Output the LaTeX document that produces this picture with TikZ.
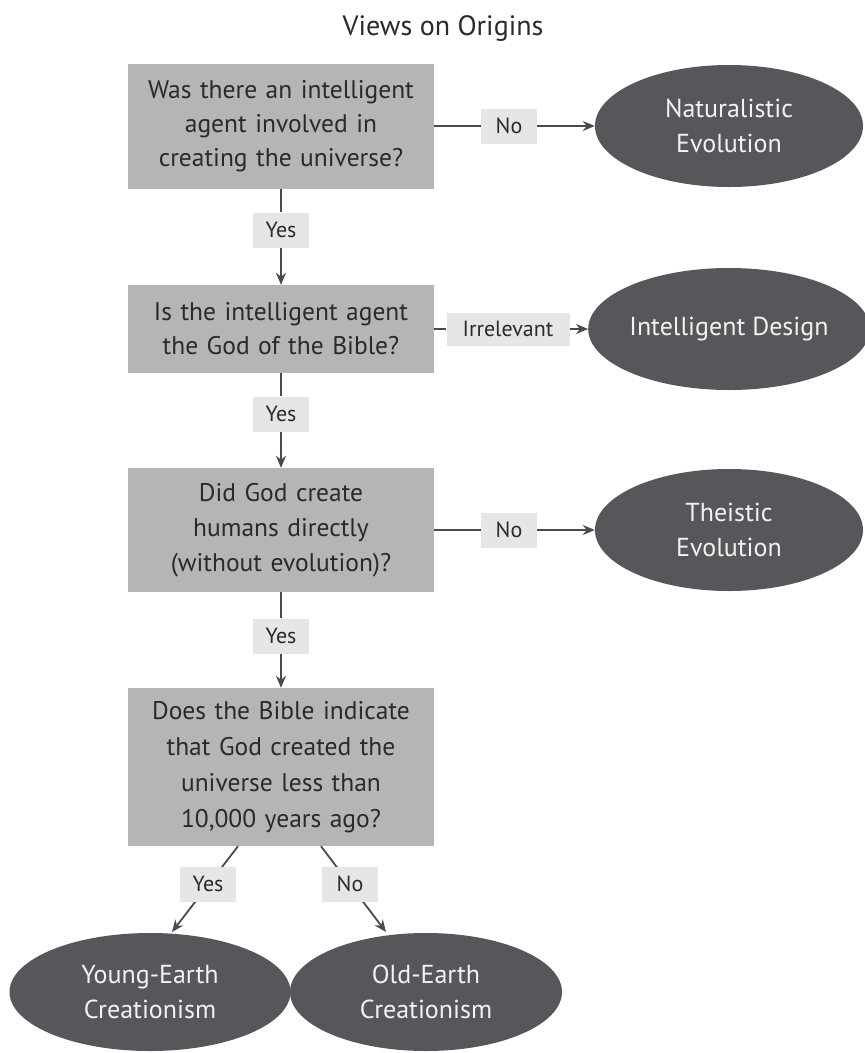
\documentclass[tikz,border=0pt]{standalone}
\usepackage{fontspec}
\setmainfont{PT Sans}
\usetikzlibrary{shapes.geometric,arrows.meta,calc}
\definecolor{boxgray}{HTML}{B4B5B7}
\definecolor{ovalgray}{HTML}{56575A}
\definecolor{labgray}{HTML}{E6E6E6}
\definecolor{txtdark}{HTML}{2A2A2A}
\definecolor{linegray}{HTML}{4A4A4A}
\definecolor{ovaltext}{HTML}{F2F2F2}
\begin{document}
\begin{tikzpicture}[x=1pt,y=-1pt,
  qbox/.style={rectangle, fill=boxgray, minimum width=306pt, text width=300pt, align=center, font=\fontsize{25.5}{34}\selectfont, text=txtdark, inner sep=0pt},
  oval/.style={ellipse, fill=ovalgray, minimum width=268pt, minimum height=122pt, inner sep=0pt, align=center, font=\fontsize{26}{35}\selectfont, text=ovaltext},
  lab/.style={rectangle, fill=labgray, minimum width=56pt, minimum height=35pt, inner sep=0pt, font=\fontsize{22}{26}\selectfont, text=txtdark},
  conn/.style={draw=linegray, line width=1.8pt},
  arr/.style={conn, -{Stealth[length=12pt,width=10pt]}}
]
\useasboundingbox[fill=white] (0,0) rectangle (865,1053);
\node[font=\fontsize{28}{32}\selectfont, text=txtdark, anchor=base] (title) at (443,35) {Views on Origins};

% question boxes
\node[qbox, minimum height=125pt] (b1) at (281,126) {Was there an intelligent\\agent involved in\\creating the universe?};
\node[qbox, minimum height=88pt] (b2) at (281,329) {Is the intelligent agent\\the God of the Bible?};
\node[qbox, minimum height=124pt, font=\fontsize{25.5}{35}\selectfont] (b3) at (281,530) {Did God create\\humans directly\\(without evolution)?};
\node[qbox, minimum height=158pt, font=\fontsize{25.5}{36}\selectfont] (b4) at (281,767) {Does the Bible indicate\\that God created the\\universe less than\\10,000 years ago?};

% outcome ovals
\node[oval] (nat) at (729,126) {Naturalistic\\Evolution};
\node[oval] (id) at (729,329) {Intelligent Design};
\node[oval] (the) at (729,530) {Theistic\\Evolution};
\node[oval, minimum width=281pt, minimum height=118pt] (yec) at (150,992) {Young-Earth\\Creationism};
\node[oval, minimum width=272pt, minimum height=118pt] (oec) at (426,992) {Old-Earth\\Creationism};

% labels (positions)
\coordinate (py1) at (281,230);
\coordinate (py2) at (281,414);
\coordinate (py3) at (281,636);
\coordinate (pn1) at (509,126);
\coordinate (pir) at (508,329);
\coordinate (pn2) at (509,530);
\coordinate (py4) at (208,884);
\coordinate (pn4) at (350,884);

\node[lab] (y1) at (py1) {Yes};
\node[lab] (y2) at (py2) {Yes};
\node[lab] (y3) at (py3) {Yes};
\node[lab] (n1) at (pn1) {No};
\node[lab, minimum width=123pt, minimum height=33pt] (ir) at (pir) {Irrelevant};
\node[lab] (n2) at (pn2) {No};

% vertical connectors
\draw[conn] (b1.south) -- (y1.north);
\draw[arr] (y1.south) -- (b2.north);
\draw[conn] (b2.south) -- (y2.north);
\draw[arr] (y2.south) -- (b3.north);
\draw[conn] (b3.south) -- (y3.north);
\draw[arr] (y3.south) -- (b4.north);

% horizontal connectors
\draw[conn] (b1.east) -- (n1.west);
\draw[arr] (n1.east) -- (nat.west);
\draw[conn] (b2.east) -- (ir.west);
\draw[arr] (ir.east) -- (id.west);
\draw[conn] (b3.east) -- (n2.west);
\draw[arr] (n2.east) -- (the.west);

% diagonal connectors
\coordinate (s1) at ($(b4.south)+(-43,0)$);
\coordinate (s2) at ($(b4.south)+(40,0)$);
\coordinate (t1) at (172,932);
\coordinate (t2) at (386,932);
\draw[arr] (s1) -- (t1);
\draw[arr] (s2) -- (t2);
\node[lab] (y4) at (py4) {Yes};
\node[lab] (n4) at (pn4) {No};
\end{tikzpicture}
\end{document}
